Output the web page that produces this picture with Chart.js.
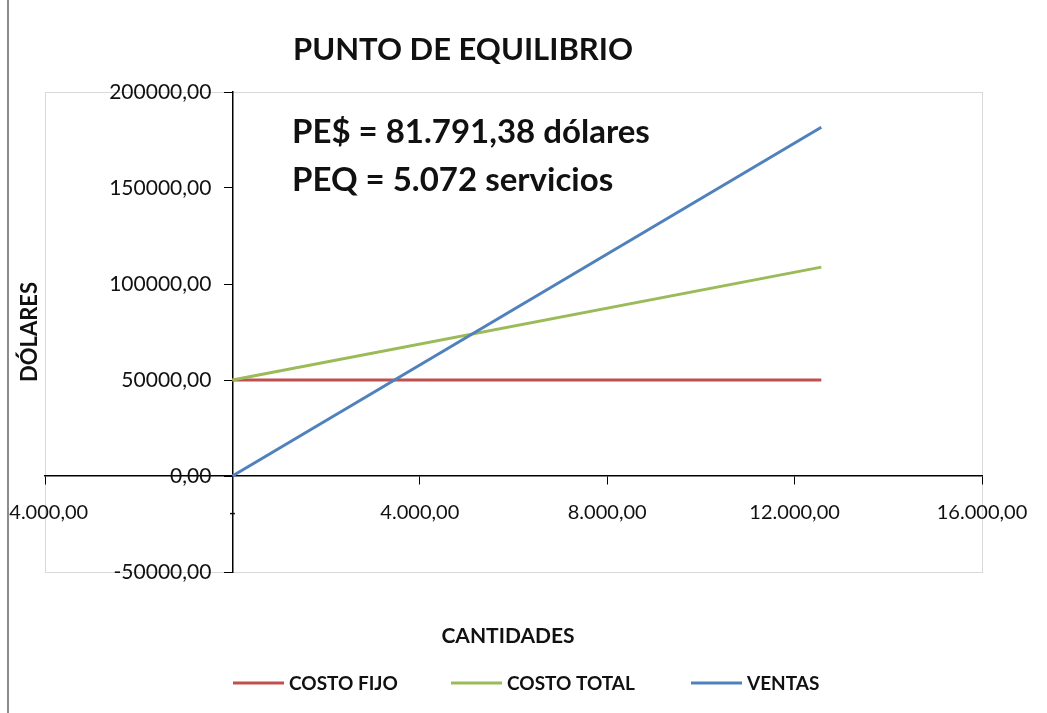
<!DOCTYPE html>
<html>
<head>
<meta charset="utf-8">
<script src="https://cdn.jsdelivr.net/npm/chart.js@4.4.1/dist/chart.umd.min.js"></script>
<style>
  html, body { margin: 0; padding: 0; background: #fff; }
  #wrap { width: 1047px; height: 713px; position: relative; }
</style>
</head>
<body>
<div id="wrap"><canvas id="peChart" width="1047" height="713"></canvas></div>
<script>
// values
const cantidades = [0, 12570];
const costoFijo = [50000, 50000];
const costoTotal = [50000, 108800];
const ventas = [0, 181600];

const seriesNames = ['COSTO FIJO', 'COSTO TOTAL', 'VENTAS'];
const seriesColors = ['#C0504D', '#9BBB59', '#4F81BD'];

const xRange = { min: -4000, max: 16000, step: 4000 };
const yRange = { min: -50000, max: 200000, step: 50000 };

const chartTitle = 'PUNTO DE EQUILIBRIO';
const notes = ['PE$ = 81.791,38 dólares', 'PEQ = 5.072 servicios'];
const xTitle = 'CANTIDADES';
const yTitle = 'DÓLARES';

const FONT = 'Lato, "Open Sans", sans-serif';
const INK = '#111';

const fmtX = v => v === 0 ? '-' :
    v.toLocaleString('de-DE', { minimumFractionDigits: 2, maximumFractionDigits: 2 });
const fmtY = v => v.toLocaleString('de-DE', { minimumFractionDigits: 2, maximumFractionDigits: 2, useGrouping: false });

const toPoints = ys => cantidades.map((x, i) => ({ x, y: ys[i] }));

const decorPlugin = {
    id: 'decor',
    afterLayout(chart) {
        // y labels sit flush on the crossing axis; push them left of the tick marks
        const ys = chart.scales.y;
        if (ys && !ys._shifted) {
            const orig = ys.drawLabels.bind(ys);
            ys.drawLabels = area => {
                chart.ctx.save();
                chart.ctx.translate(-21, 0);
                orig(area);
                chart.ctx.restore();
            };
            ys._shifted = true;
        }
    },
    beforeDraw(chart) {
        const { ctx, chartArea: a } = chart;
        ctx.save();
        ctx.fillStyle = '#fff';
        ctx.fillRect(0, 0, chart.width, chart.height);
        ctx.strokeStyle = '#d9d9d9';
        ctx.lineWidth = 1;
        ctx.strokeRect(a.left + 0.5, a.top + 0.5, a.right - a.left, a.bottom - a.top);
        ctx.restore();
    },
    afterDraw(chart) {
        const { ctx } = chart;
        ctx.save();
        // outer frame: blank margin and grey line on the left
        ctx.fillStyle = '#fff';
        ctx.fillRect(0, 0, 8, chart.height);
        ctx.strokeStyle = '#8c8c8c';
        ctx.lineWidth = 2;
        ctx.beginPath();
        ctx.moveTo(8, 0);
        ctx.lineTo(8, chart.height);
        ctx.stroke();

        ctx.fillStyle = INK;
        ctx.textBaseline = 'middle';

        ctx.textAlign = 'center';
        ctx.font = 'bold 31px ' + FONT;
        ctx.fillText(chartTitle, 463, 50);

        ctx.textAlign = 'left';
        ctx.font = 'bold 33px ' + FONT;
        ctx.fillText(notes[0], 292, 132);
        ctx.fillText(notes[1], 292, 180);

        ctx.textAlign = 'center';
        ctx.font = 'bold 21px ' + FONT;
        ctx.fillText(xTitle, 508, 636);

        ctx.save();
        ctx.translate(30, 332);
        ctx.rotate(-Math.PI / 2);
        ctx.font = 'bold 22px ' + FONT;
        ctx.fillText(yTitle, 0, 0);
        ctx.restore();

        // legend
        const legendX = [233, 451, 691];
        ctx.font = 'bold 19px ' + FONT;
        ctx.textAlign = 'left';
        seriesNames.forEach((name, i) => {
            const x = legendX[i];
            ctx.strokeStyle = seriesColors[i];
            ctx.lineWidth = 3;
            ctx.beginPath();
            ctx.moveTo(x, 683);
            ctx.lineTo(x + 51, 683);
            ctx.stroke();
            ctx.fillText(name, x + 56, 684);
        });
        ctx.restore();
    }
};

new Chart(document.getElementById('peChart').getContext('2d'), {
    type: 'line',
    data: {
        datasets: [
            { label: seriesNames[0], data: toPoints(costoFijo), borderColor: seriesColors[0], order: 3 },
            { label: seriesNames[1], data: toPoints(costoTotal), borderColor: seriesColors[1], order: 2 },
            { label: seriesNames[2], data: toPoints(ventas), borderColor: seriesColors[2], order: 1 }
        ]
    },
    options: {
        responsive: false,
        animation: false,
        layout: { padding: { left: 45, right: 65, top: 92, bottom: 141 } },
        elements: {
            line: { borderWidth: 3, tension: 0, fill: false },
            point: { radius: 0, hoverRadius: 0 }
        },
        plugins: { legend: { display: false }, title: { display: false }, tooltip: { enabled: false } },
        scales: {
            x: {
                type: 'linear',
                position: { y: 0 },
                min: xRange.min, max: xRange.max,
                afterFit: s => { s.height = 0; s.paddingLeft = 0; s.paddingRight = 0; },
                ticks: { stepSize: xRange.step, callback: fmtX, color: INK, font: { family: FONT, size: 20 }, padding: 17, maxRotation: 0 },
                grid: { drawOnChartArea: false, drawTicks: true, tickLength: 8, color: '#000' },
                border: { display: true, color: '#000', width: 1.5 }
            },
            y: {
                type: 'linear',
                position: { x: 0 },
                min: yRange.min, max: yRange.max,
                afterFit: s => { s.width = 0; s.paddingTop = 0; s.paddingBottom = 0; },
                ticks: { stepSize: yRange.step, callback: fmtY, color: INK, font: { family: FONT, size: 21 } },
                grid: { drawOnChartArea: false, drawTicks: true, tickLength: 8, color: '#000' },
                border: { display: true, color: '#000', width: 1.5 }
            }
        }
    },
    plugins: [decorPlugin]
});
</script>
</body>
</html>
